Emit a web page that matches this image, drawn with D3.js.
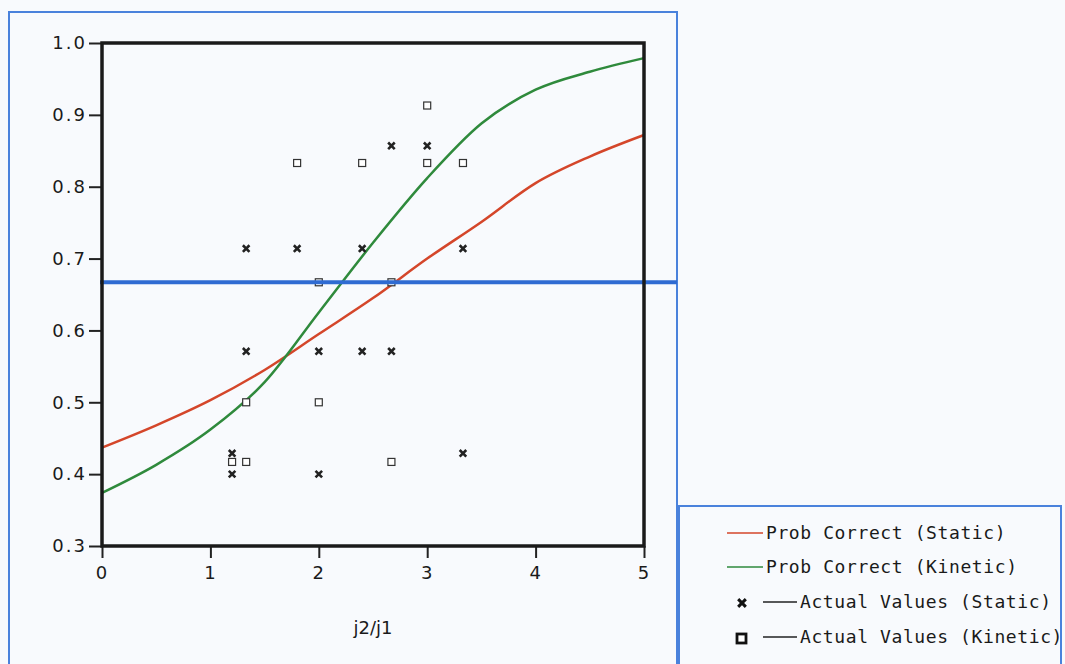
<!DOCTYPE html>
<html>
<head>
    <meta charset="utf-8">
    <title>Prob Correct vs j2/j1</title>
    <style>
        body { margin: 0; background: #f8fafd; }
        svg { display: block; }
    </style>
</head>
<body>

    <script src="https://d3js.org/d3.v7.min.js"></script>
    <script type="text/javascript">

    // fitted curves, every 0.5
    var curveX      = [0, 0.5, 1, 1.5, 2, 2.5, 3, 3.5, 4, 4.5, 5];
    var staticProb  = [0.437, 0.468, 0.503, 0.545, 0.595, 0.645, 0.700, 0.751, 0.805, 0.842, 0.872];
    var kineticProb = [0.374, 0.413, 0.462, 0.528, 0.625, 0.722, 0.812, 0.888, 0.935, 0.960, 0.979];

    // actual values (static = x marks)
    var staticX = [1.33, 1.8, 2.4, 3.33, 2.67, 3.0, 1.33, 2.0, 2.4, 2.67, 1.2, 1.2, 2.0, 3.33];
    var staticY = [0.714, 0.714, 0.714, 0.714, 0.857, 0.857, 0.571, 0.571, 0.571, 0.571, 0.429, 0.40, 0.40, 0.429];

    // actual values (kinetic = open squares)
    var kineticX = [3.0, 1.8, 2.4, 3.0, 3.33, 2.0, 2.67, 1.33, 2.0, 1.2, 1.33, 2.67];
    var kineticY = [0.913, 0.833, 0.833, 0.833, 0.833, 0.667, 0.667, 0.5, 0.5, 0.417, 0.417, 0.417];

    var refLevel = 0.667;

    var xTicks = [0, 1, 2, 3, 4, 5];
    var yTicks = [0.3, 0.4, 0.5, 0.6, 0.7, 0.8, 0.9, 1.0];

    var legendLabels = ["Prob Correct (Static)", "Prob Correct (Kinetic)",
                        "Actual Values (Static)", "Actual Values (Kinetic)"];

    var red = "#d4462a", green = "#2f8a3c", blue = "#2f6bd2";

    var margin = {top: 43, left: 102},
        width  = 542,
        height = 503;

    var x = d3.scaleLinear().domain([0, 5]).range([0, width]);
    var y = d3.scaleLinear().domain([0.3, 1.0]).range([height, 0]);

    var svg = d3.select("body")
        .append("svg")
        .attr("width", 1065)
        .attr("height", 664);

    // outer boxes
    svg.append("rect")
        .attr("x", 9).attr("y", 12)
        .attr("width", 668).attr("height", 670)
        .style("fill", "none")
        .style("stroke", "#4a82dc")
        .style("stroke-width", 2);

    svg.append("rect")
        .attr("x", 679).attr("y", 506)
        .attr("width", 382).attr("height", 180)
        .style("fill", "none")
        .style("stroke", "#4a82dc")
        .style("stroke-width", 2);

    var chart = svg.append("g")
        .attr("transform", "translate(" + margin.left + "," + margin.top + ")");

    // axes
    var yAxis = chart.append("g")
        .call(d3.axisLeft(y).tickValues(yTicks).tickFormat(d3.format(".1f")).tickSize(13).tickPadding(2));
    var xAxis = chart.append("g")
        .attr("transform", "translate(0," + height + ")")
        .call(d3.axisBottom(x).tickValues(xTicks).tickFormat(d3.format("d")).tickSize(12).tickPadding(8));

    [xAxis, yAxis].forEach(function(a) {
        a.select(".domain").remove();
        a.selectAll("line").style("stroke", "#222").style("stroke-width", 2);
        a.selectAll("text")
            .style("font-family", "DejaVu Sans")
            .style("font-size", "18px")
            .style("letter-spacing", "2px")
            .style("fill", "#1a1a1a");
    });

    var line = d3.line()
        .x(function(d) { return x(d[0]); })
        .y(function(d) { return y(d[1]); })
        .curve(d3.curveMonotoneX);

    chart.append("path")
        .datum(d3.zip(curveX, staticProb))
        .attr("d", line)
        .style("stroke", red)
        .style("stroke-width", 2.5)
        .style("fill", "none");

    chart.append("path")
        .datum(d3.zip(curveX, kineticProb))
        .attr("d", line)
        .style("stroke", green)
        .style("stroke-width", 2.5)
        .style("fill", "none");

    // markers
    var cross = d3.symbol().type(d3.symbolX).size(30);

    chart.selectAll(".kin")
        .data(d3.zip(kineticX, kineticY))
        .enter().append("rect")
        .attr("x", function(d) { return x(d[0]) - 3.5; })
        .attr("y", function(d) { return y(d[1]) - 3.5; })
        .attr("width", 7).attr("height", 7)
        .style("fill", "#fff")
        .style("stroke", "#333")
        .style("stroke-width", 1.2);

    chart.selectAll(".sta")
        .data(d3.zip(staticX, staticY))
        .enter().append("path")
        .attr("transform", function(d) { return "translate(" + x(d[0]) + "," + y(d[1]) + ")"; })
        .attr("d", cross)
        .style("fill", "#222")
        .style("stroke", "#222")
        .style("stroke-width", 2.6);

    // reference line on top, runs out to the outer box
    chart.append("line")
        .attr("x1", x(0) - 2)
        .attr("x2", 677 - margin.left)
        .attr("y1", y(refLevel))
        .attr("y2", y(refLevel))
        .style("stroke", blue)
        .style("stroke-width", 4);

    // frame
    chart.append("rect")
        .attr("width", width).attr("height", height)
        .style("fill", "none")
        .style("stroke", "#1a1a1a")
        .style("stroke-width", 3.5);

    // x title
    svg.append("text")
        .attr("x", margin.left + x(2.5))
        .attr("y", 634)
        .attr("text-anchor", "middle")
        .text("j2/j1")
        .style("font-family", "DejaVu Sans")
        .style("font-size", "18px")
        .style("fill", "#1a1a1a");

    // legend
    var legend = svg.append("g");
    var rowY = [533, 567, 602, 637];

    legendLabels.forEach(function(lbl, i) {
        var g = legend.append("g").attr("transform", "translate(0," + rowY[i] + ")");
        var lineStart = i < 2 ? 727 : 763;
        var lineEnd = i < 2 ? 763 : 797;
        g.append("line")
            .attr("x1", lineStart).attr("x2", lineEnd)
            .style("stroke", i == 0 ? red : (i == 1 ? green : "#222"))
            .style("stroke-width", 1.5);
        if (i == 2) {
            g.append("path")
                .attr("transform", "translate(742,1)")
                .attr("d", d3.symbol().type(d3.symbolX).size(40))
                .style("fill", "#111").style("stroke", "#111").style("stroke-width", 3);
        }
        if (i == 3) {
            g.append("rect")
                .attr("x", 737).attr("y", -3)
                .attr("width", 9).attr("height", 9)
                .style("fill", "#fff").style("stroke", "#111").style("stroke-width", 2.8);
        }
        g.append("text")
            .attr("x", lineEnd + 3)
            .attr("y", 6)
            .text(lbl)
            .style("font-family", "DejaVu Sans Mono")
            .style("font-size", "18px")
            .style("letter-spacing", "0.6px")
            .style("fill", "#1a1a1a");
    });

    </script>
</body>
</html>
